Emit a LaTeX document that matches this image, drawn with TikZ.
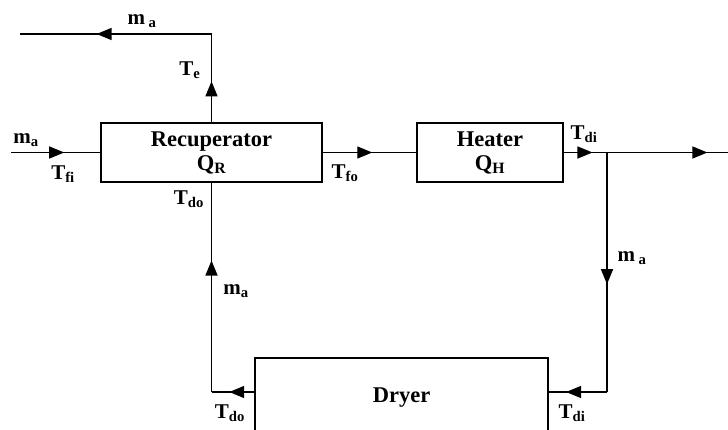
\documentclass[tikz,border=0pt]{standalone}
\usepackage{fontspec}
\setmainfont{Liberation Serif}
\usetikzlibrary{arrows.meta,decorations.markings}

\tikzset{
  unit/.style={draw, line width=2.6pt, inner sep=0pt, align=center,
    font=\fontsize{22.5}{24}\selectfont\bfseries},
  flow/.style={line width=1.3pt},
  midarrow/.style={postaction={decorate}, decoration={markings,
    mark=at position #1 with {\arrow{Triangle[length=15pt,width=12pt]}}}},
  lbl/.style={inner sep=1pt, font=\fontsize{21}{24}\selectfont\bfseries},
}

\begin{document}
\begin{tikzpicture}[x=1pt, y=-1pt, >=Latex]
  \clip (0,0) rectangle (728,430);
  % units
  \node[unit, minimum width=221pt, minimum height=59pt] (recup) at (211.5,152.5) {Recuperator\\Q\textsubscript{R}};
  \node[unit, minimum width=146pt, minimum height=59pt] (heater) at (490,152.5) {Heater\\Q\textsubscript{H}};
  \node[unit, minimum width=293pt, minimum height=80pt] (dryer) at (401.5,398) {Dryer};
  % stream points
  \coordinate (feed) at (11,152.5);
  \coordinate (vent) at (recup.north |- 0,34);
  \coordinate (stack) at (20,34);
  \coordinate (split) at (607,152.5);
  \coordinate (out) at (728,152.5);
  \coordinate (turn) at (split |- 0,392);
  \coordinate (back) at (recup.south |- 0,392);
  % streams
  \draw[flow, midarrow=0.6] (feed) -- (recup.west);
  \draw[flow, midarrow=0.46] (recup.north) -- (vent);
  \draw[flow, midarrow=0.6] (vent) -- (stack);
  \draw[flow, midarrow=0.53] (recup.east) -- (heater.west);
  \draw[flow, midarrow=0.66] (heater.east) -- (split);
  \draw[flow, midarrow=0.83] (split) -- (out);
  \draw[flow, midarrow=0.55] (split) -- (turn);
  \draw[flow, midarrow=0.71] (turn) -- (turn -| dryer.east);
  \draw[flow, midarrow=0.58] (back -| dryer.west) -- (back);
  \draw[flow, midarrow=0.63] (back) -- (recup.south);
  % labels
  \node[lbl] (mvent) at (142,21) {m\,\textsubscript{a}};
  \node[lbl] (tvent) at (190,70) {T\textsubscript{e}};
  \node[lbl] (mfeed) at (26,140) {m\textsubscript{a}};
  \node[lbl] (tfeed) at (63,174) {T\textsubscript{fi}};
  \node[lbl] (tfo) at (345,173) {T\textsubscript{fo}};
  \node[lbl] (tdiup) at (584,134) {T\textsubscript{di}};
  \node[lbl] (msplit) at (632,258) {m\,\textsubscript{a}};
  \node[lbl] (tdoup) at (189,199) {T\textsubscript{do}};
  \node[lbl] (mback) at (236,291) {m\textsubscript{a}};
  \node[lbl] (tdolow) at (230,413) {T\textsubscript{do}};
  \node[lbl] (tdilow) at (572,413) {T\textsubscript{di}};
\end{tikzpicture}
\end{document}
